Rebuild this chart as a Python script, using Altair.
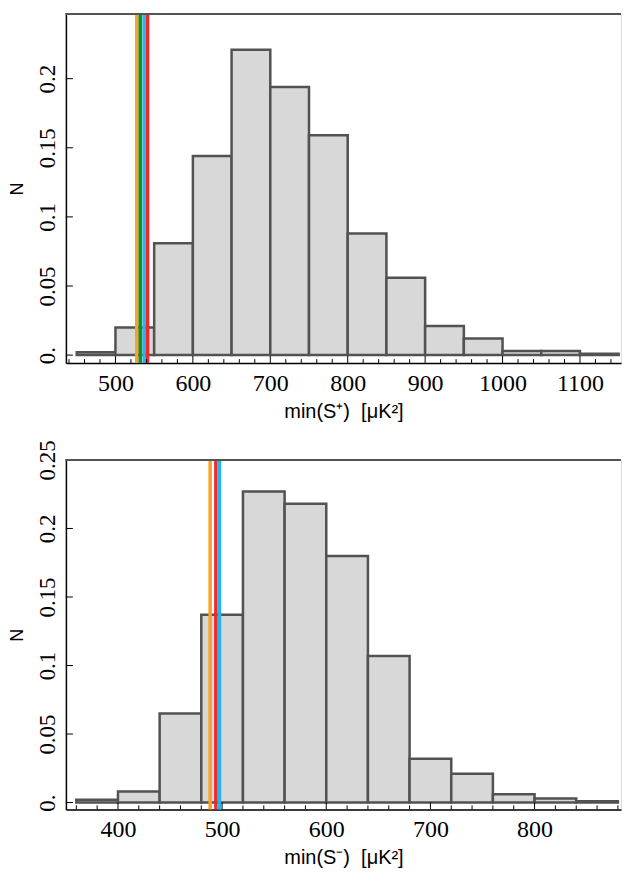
import altair as alt
import pandas as pd

# ---------------- data ----------------
top_edges = [450, 500, 550, 600, 650, 700, 750, 800, 850, 900, 950, 1000, 1050, 1100, 1150]
top_vals = [0.002, 0.020, 0.081, 0.144, 0.221, 0.194, 0.159, 0.088, 0.056, 0.021, 0.012, 0.003, 0.003, 0.001]
top_lines = [527.5, 532.0, 537.0, 541.5]
top_line_colors = ["#F9A12A", "#1C8A1C", "#25B5E8", "#F0282E"]
top_xticks = [500, 600, 700, 800, 900, 1000, 1100]
top_yticks = [0, 0.05, 0.1, 0.15, 0.2]
top_xdomain = [436, 1153]
top_ydomain = [-0.0058, 0.247]
top_title = "min(S\u207a)\u00a0\u00a0[\u03bcK\u00b2]"

bot_edges = [360, 400, 440, 480, 520, 560, 600, 640, 680, 720, 760, 800, 840, 880]
bot_vals = [0.002, 0.008, 0.065, 0.137, 0.227, 0.218, 0.180, 0.107, 0.032, 0.021, 0.006, 0.003, 0.001]
bot_lines = [488.5, 494.0, 497.5]
bot_line_colors = ["#F9A12A", "#F0282E", "#25B5E8"]
bot_xticks = [400, 500, 600, 700, 800]
bot_yticks = [0, 0.05, 0.1, 0.15, 0.2, 0.25]
bot_xdomain = [350, 883]
bot_ydomain = [-0.005, 0.25]
bot_title = "min(S\u207b)\u00a0\u00a0[\u03bcK\u00b2]"

W, H = 556, 350
SERIF = "Liberation Serif"
SANS = "Liberation Sans"


def panel(edges, vals, lines, colors, xdom, ydom, xticks, yticks, minor_step, title):
    hist = pd.DataFrame({"x0": edges[:-1], "x1": edges[1:], "n": vals})
    xs = alt.Scale(domain=xdom, nice=False, zero=False)
    ys = alt.Scale(domain=ydom, nice=False, zero=False)

    xaxis = alt.Axis(
        values=xticks, title=title, grid=False, ticks=False, tickSize=0, format="d",
        domain=True, domainColor="black", domainWidth=1.5,
        labelFont=SERIF, labelFontSize=24, labelColor="black", labelPadding=8,
        labelFlush=False, labelOverlap=False,
        titleFont=SANS, titleFontSize=20, titleFontWeight="normal", titleColor="black",
        titlePadding=6,
    )
    yaxis = alt.Axis(
        values=yticks, title="N", grid=False, ticks=False, tickSize=0,
        domain=True, domainColor="black", domainWidth=1.5,
        format=".2~f", labelExpr="datum.value == 0 ? '0.' : datum.label",
        labelFont=SERIF, labelFontSize=23, labelColor="black", labelPadding=6,
        labelAngle=270, labelAlign="center", labelBaseline="bottom",
        labelFlush=False, labelOverlap=False,
        titleFont=SANS, titleFontSize=18, titleFontWeight="normal", titleColor="black",
        titlePadding=10, titleAngle=270,
    )

    bars = alt.Chart(hist).mark_rect(
        fill="#D8D8D8", stroke="#525252", strokeWidth=2.5
    ).encode(
        x=alt.X("x0:Q", scale=xs, axis=xaxis),
        x2="x1:Q",
        y=alt.Y("n:Q", scale=ys, axis=yaxis),
        y2=alt.datum(0),
    )

    vl = pd.DataFrame({"v": lines, "c": colors})
    vlines = alt.Chart(vl).mark_rule(strokeWidth=3.5).encode(
        x=alt.X("v:Q", scale=xs),
        color=alt.Color("c:N", scale=None),
    )

    minor_vals = list(range(int(xdom[0]) - int(xdom[0]) % minor_step + minor_step, int(xdom[1]) + 1, minor_step))
    minor_vals = [m for m in minor_vals if m not in xticks]
    mt = pd.DataFrame({"v": minor_vals})
    minor = alt.Chart(mt).mark_rule(color="black", strokeWidth=1).encode(
        x=alt.X("v:Q", scale=xs), y=alt.value(H), y2=alt.value(H - 4)
    )
    Mt = pd.DataFrame({"v": xticks})
    major = alt.Chart(Mt).mark_rule(color="black", strokeWidth=1).encode(
        x=alt.X("v:Q", scale=xs), y=alt.value(H), y2=alt.value(H - 7)
    )
    Yt = pd.DataFrame({"v": yticks})
    yt = alt.Chart(Yt).mark_rule(color="black", strokeWidth=1).encode(
        y=alt.Y("v:Q", scale=ys), x=alt.value(0), x2=alt.value(7)
    )
    topline = alt.Chart(hist).mark_rule(color="#555555", strokeWidth=1.5).encode(
        x=alt.value(0), x2=alt.value(W), y=alt.value(0)
    )
    return alt.layer(bars, vlines, minor, major, yt, topline).properties(width=W, height=H)


top = panel(top_edges, top_vals, top_lines, top_line_colors, top_xdomain, top_ydomain,
            top_xticks, top_yticks, 20, top_title)
bot = panel(bot_edges, bot_vals, bot_lines, bot_line_colors, bot_xdomain, bot_ydomain,
            bot_xticks, bot_yticks, 20, bot_title)

chart = alt.vconcat(top, bot, spacing=97, bounds="flush").properties(
    padding={"left": 0, "top": 2, "right": 0, "bottom": 0}
).configure_view(stroke=None).configure(background="white")

chart.save("out.html", embed_options={"renderer": "svg", "actions": False})
